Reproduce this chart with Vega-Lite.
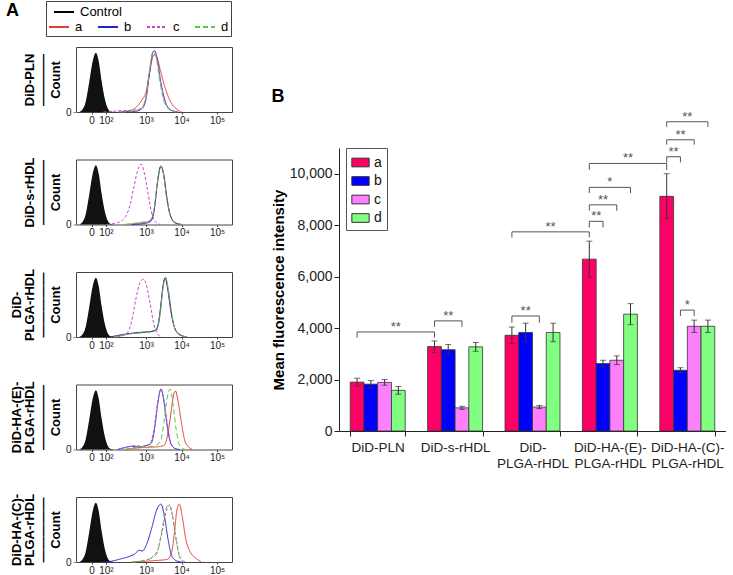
{
"$schema": "https://vega.github.io/schema/vega-lite/v6.json",
"padding": {"left": 5, "top": 0, "right": 0, "bottom": 0},
"background": "white",
"title": {"text": "A", "anchor": "start", "frame": "bounds", "fontSize": 18, "fontWeight": "bold", "color": "black", "offset": -20, "dx": -4},
"config": {"font": "Liberation Sans", "view": {"stroke": "#444"}},
"resolve": {"scale": {"fill": "independent", "stroke": "independent", "strokeDash": "independent"}, "legend": {"fill": "independent", "stroke": "independent", "strokeDash": "independent"}},
"datasets": {
"hist": [
{"p":"all","s":"Control","u":1.12,"n":0},{"p":"all","s":"Control","u":1.2,"n":0.03},{"p":"all","s":"Control","u":1.3,"n":0.15},{"p":"all","s":"Control","u":1.4,"n":0.45},{"p":"all","s":"Control","u":1.5,"n":0.78},{"p":"all","s":"Control","u":1.59,"n":0.91},{"p":"all","s":"Control","u":1.67,"n":0.78},{"p":"all","s":"Control","u":1.75,"n":0.48},{"p":"all","s":"Control","u":1.85,"n":0.18},{"p":"all","s":"Control","u":1.93,"n":0.05},{"p":"all","s":"Control","u":2.0,"n":0.01},{"p":"all","s":"Control","u":2.1,"n":0},

{"p":"DiD-PLN","s":"a","u":2.2,"n":0},{"p":"DiD-PLN","s":"a","u":2.6,"n":0.03},{"p":"DiD-PLN","s":"a","u":2.8,"n":0.12},{"p":"DiD-PLN","s":"a","u":2.9,"n":0.2},{"p":"DiD-PLN","s":"a","u":3.0,"n":0.3},{"p":"DiD-PLN","s":"a","u":3.1,"n":0.6},{"p":"DiD-PLN","s":"a","u":3.22,"n":0.88},{"p":"DiD-PLN","s":"a","u":3.3,"n":0.85},{"p":"DiD-PLN","s":"a","u":3.4,"n":0.65},{"p":"DiD-PLN","s":"a","u":3.55,"n":0.35},{"p":"DiD-PLN","s":"a","u":3.7,"n":0.15},{"p":"DiD-PLN","s":"a","u":3.85,"n":0.05},{"p":"DiD-PLN","s":"a","u":4.0,"n":0},
{"p":"DiD-PLN","s":"b","u":2.3,"n":0},{"p":"DiD-PLN","s":"b","u":2.7,"n":0.01},{"p":"DiD-PLN","s":"b","u":2.9,"n":0.06},{"p":"DiD-PLN","s":"b","u":3.0,"n":0.2},{"p":"DiD-PLN","s":"b","u":3.1,"n":0.6},{"p":"DiD-PLN","s":"b","u":3.2,"n":0.93},{"p":"DiD-PLN","s":"b","u":3.25,"n":0.94},{"p":"DiD-PLN","s":"b","u":3.32,"n":0.8},{"p":"DiD-PLN","s":"b","u":3.42,"n":0.45},{"p":"DiD-PLN","s":"b","u":3.55,"n":0.15},{"p":"DiD-PLN","s":"b","u":3.7,"n":0.03},{"p":"DiD-PLN","s":"b","u":3.9,"n":0},
{"p":"DiD-PLN","s":"c","u":1.8,"n":0},{"p":"DiD-PLN","s":"c","u":2.3,"n":0.02},{"p":"DiD-PLN","s":"c","u":2.7,"n":0.03},{"p":"DiD-PLN","s":"c","u":2.9,"n":0.07},{"p":"DiD-PLN","s":"c","u":3.0,"n":0.22},{"p":"DiD-PLN","s":"c","u":3.1,"n":0.62},{"p":"DiD-PLN","s":"c","u":3.21,"n":0.93},{"p":"DiD-PLN","s":"c","u":3.3,"n":0.83},{"p":"DiD-PLN","s":"c","u":3.4,"n":0.5},{"p":"DiD-PLN","s":"c","u":3.52,"n":0.17},{"p":"DiD-PLN","s":"c","u":3.68,"n":0.04},{"p":"DiD-PLN","s":"c","u":3.9,"n":0},
{"p":"DiD-PLN","s":"d","u":2.3,"n":0},{"p":"DiD-PLN","s":"d","u":2.7,"n":0.02},{"p":"DiD-PLN","s":"d","u":2.9,"n":0.08},{"p":"DiD-PLN","s":"d","u":3.0,"n":0.25},{"p":"DiD-PLN","s":"d","u":3.1,"n":0.65},{"p":"DiD-PLN","s":"d","u":3.2,"n":0.92},{"p":"DiD-PLN","s":"d","u":3.28,"n":0.85},{"p":"DiD-PLN","s":"d","u":3.38,"n":0.5},{"p":"DiD-PLN","s":"d","u":3.5,"n":0.18},{"p":"DiD-PLN","s":"d","u":3.65,"n":0.04},{"p":"DiD-PLN","s":"d","u":3.85,"n":0},

{"p":"DiD-s-rHDL","s":"a","u":2.4,"n":0},{"p":"DiD-s-rHDL","s":"a","u":2.8,"n":0.02},{"p":"DiD-s-rHDL","s":"a","u":3.1,"n":0.05},{"p":"DiD-s-rHDL","s":"a","u":3.22,"n":0.2},{"p":"DiD-s-rHDL","s":"a","u":3.32,"n":0.62},{"p":"DiD-s-rHDL","s":"a","u":3.42,"n":0.9},{"p":"DiD-s-rHDL","s":"a","u":3.5,"n":0.77},{"p":"DiD-s-rHDL","s":"a","u":3.58,"n":0.45},{"p":"DiD-s-rHDL","s":"a","u":3.68,"n":0.15},{"p":"DiD-s-rHDL","s":"a","u":3.82,"n":0.03},{"p":"DiD-s-rHDL","s":"a","u":4.0,"n":0},
{"p":"DiD-s-rHDL","s":"b","u":2.6,"n":0},{"p":"DiD-s-rHDL","s":"b","u":3.0,"n":0.02},{"p":"DiD-s-rHDL","s":"b","u":3.15,"n":0.06},{"p":"DiD-s-rHDL","s":"b","u":3.25,"n":0.3},{"p":"DiD-s-rHDL","s":"b","u":3.32,"n":0.65},{"p":"DiD-s-rHDL","s":"b","u":3.42,"n":0.9},{"p":"DiD-s-rHDL","s":"b","u":3.5,"n":0.75},{"p":"DiD-s-rHDL","s":"b","u":3.58,"n":0.42},{"p":"DiD-s-rHDL","s":"b","u":3.68,"n":0.15},{"p":"DiD-s-rHDL","s":"b","u":3.8,"n":0.03},{"p":"DiD-s-rHDL","s":"b","u":4.0,"n":0},
{"p":"DiD-s-rHDL","s":"c","u":1.9,"n":0},{"p":"DiD-s-rHDL","s":"c","u":2.2,"n":0.03},{"p":"DiD-s-rHDL","s":"c","u":2.4,"n":0.1},{"p":"DiD-s-rHDL","s":"c","u":2.55,"n":0.3},{"p":"DiD-s-rHDL","s":"c","u":2.65,"n":0.55},{"p":"DiD-s-rHDL","s":"c","u":2.75,"n":0.8},{"p":"DiD-s-rHDL","s":"c","u":2.86,"n":0.93},{"p":"DiD-s-rHDL","s":"c","u":2.95,"n":0.8},{"p":"DiD-s-rHDL","s":"c","u":3.05,"n":0.5},{"p":"DiD-s-rHDL","s":"c","u":3.15,"n":0.2},{"p":"DiD-s-rHDL","s":"c","u":3.25,"n":0.05},{"p":"DiD-s-rHDL","s":"c","u":3.4,"n":0},
{"p":"DiD-s-rHDL","s":"d","u":2.4,"n":0},{"p":"DiD-s-rHDL","s":"d","u":2.8,"n":0.03},{"p":"DiD-s-rHDL","s":"d","u":3.1,"n":0.06},{"p":"DiD-s-rHDL","s":"d","u":3.22,"n":0.22},{"p":"DiD-s-rHDL","s":"d","u":3.32,"n":0.64},{"p":"DiD-s-rHDL","s":"d","u":3.42,"n":0.9},{"p":"DiD-s-rHDL","s":"d","u":3.5,"n":0.76},{"p":"DiD-s-rHDL","s":"d","u":3.58,"n":0.43},{"p":"DiD-s-rHDL","s":"d","u":3.68,"n":0.14},{"p":"DiD-s-rHDL","s":"d","u":3.82,"n":0.03},{"p":"DiD-s-rHDL","s":"d","u":4.0,"n":0},

{"p":"DiD-PLGA-rHDL","s":"a","u":2.0,"n":0},{"p":"DiD-PLGA-rHDL","s":"a","u":2.5,"n":0.05},{"p":"DiD-PLGA-rHDL","s":"a","u":2.9,"n":0.07},{"p":"DiD-PLGA-rHDL","s":"a","u":3.2,"n":0.09},{"p":"DiD-PLGA-rHDL","s":"a","u":3.32,"n":0.15},{"p":"DiD-PLGA-rHDL","s":"a","u":3.42,"n":0.5},{"p":"DiD-PLGA-rHDL","s":"a","u":3.5,"n":0.85},{"p":"DiD-PLGA-rHDL","s":"a","u":3.55,"n":0.91},{"p":"DiD-PLGA-rHDL","s":"a","u":3.63,"n":0.7},{"p":"DiD-PLGA-rHDL","s":"a","u":3.72,"n":0.35},{"p":"DiD-PLGA-rHDL","s":"a","u":3.82,"n":0.12},{"p":"DiD-PLGA-rHDL","s":"a","u":3.95,"n":0.03},{"p":"DiD-PLGA-rHDL","s":"a","u":4.15,"n":0},
{"p":"DiD-PLGA-rHDL","s":"b","u":2.0,"n":0},{"p":"DiD-PLGA-rHDL","s":"b","u":2.4,"n":0.04},{"p":"DiD-PLGA-rHDL","s":"b","u":2.8,"n":0.07},{"p":"DiD-PLGA-rHDL","s":"b","u":3.1,"n":0.08},{"p":"DiD-PLGA-rHDL","s":"b","u":3.3,"n":0.12},{"p":"DiD-PLGA-rHDL","s":"b","u":3.4,"n":0.4},{"p":"DiD-PLGA-rHDL","s":"b","u":3.47,"n":0.75},{"p":"DiD-PLGA-rHDL","s":"b","u":3.54,"n":0.91},{"p":"DiD-PLGA-rHDL","s":"b","u":3.62,"n":0.7},{"p":"DiD-PLGA-rHDL","s":"b","u":3.7,"n":0.4},{"p":"DiD-PLGA-rHDL","s":"b","u":3.8,"n":0.15},{"p":"DiD-PLGA-rHDL","s":"b","u":3.95,"n":0.04},{"p":"DiD-PLGA-rHDL","s":"b","u":4.15,"n":0},
{"p":"DiD-PLGA-rHDL","s":"c","u":2.2,"n":0},{"p":"DiD-PLGA-rHDL","s":"c","u":2.45,"n":0.05},{"p":"DiD-PLGA-rHDL","s":"c","u":2.6,"n":0.25},{"p":"DiD-PLGA-rHDL","s":"c","u":2.72,"n":0.6},{"p":"DiD-PLGA-rHDL","s":"c","u":2.84,"n":0.85},{"p":"DiD-PLGA-rHDL","s":"c","u":2.93,"n":0.89},{"p":"DiD-PLGA-rHDL","s":"c","u":3.02,"n":0.78},{"p":"DiD-PLGA-rHDL","s":"c","u":3.12,"n":0.5},{"p":"DiD-PLGA-rHDL","s":"c","u":3.22,"n":0.2},{"p":"DiD-PLGA-rHDL","s":"c","u":3.32,"n":0.05},{"p":"DiD-PLGA-rHDL","s":"c","u":3.45,"n":0},
{"p":"DiD-PLGA-rHDL","s":"d","u":2.1,"n":0},{"p":"DiD-PLGA-rHDL","s":"d","u":2.6,"n":0.05},{"p":"DiD-PLGA-rHDL","s":"d","u":3.0,"n":0.07},{"p":"DiD-PLGA-rHDL","s":"d","u":3.3,"n":0.1},{"p":"DiD-PLGA-rHDL","s":"d","u":3.4,"n":0.35},{"p":"DiD-PLGA-rHDL","s":"d","u":3.48,"n":0.75},{"p":"DiD-PLGA-rHDL","s":"d","u":3.55,"n":0.92},{"p":"DiD-PLGA-rHDL","s":"d","u":3.63,"n":0.72},{"p":"DiD-PLGA-rHDL","s":"d","u":3.72,"n":0.38},{"p":"DiD-PLGA-rHDL","s":"d","u":3.82,"n":0.12},{"p":"DiD-PLGA-rHDL","s":"d","u":4.0,"n":0.02},{"p":"DiD-PLGA-rHDL","s":"d","u":4.15,"n":0},

{"p":"DiD-HA-(E)-PLGA-rHDL","s":"a","u":2.4,"n":0},{"p":"DiD-HA-(E)-PLGA-rHDL","s":"a","u":2.9,"n":0.03},{"p":"DiD-HA-(E)-PLGA-rHDL","s":"a","u":3.3,"n":0.04},{"p":"DiD-HA-(E)-PLGA-rHDL","s":"a","u":3.5,"n":0.06},{"p":"DiD-HA-(E)-PLGA-rHDL","s":"a","u":3.6,"n":0.2},{"p":"DiD-HA-(E)-PLGA-rHDL","s":"a","u":3.7,"n":0.55},{"p":"DiD-HA-(E)-PLGA-rHDL","s":"a","u":3.78,"n":0.85},{"p":"DiD-HA-(E)-PLGA-rHDL","s":"a","u":3.83,"n":0.9},{"p":"DiD-HA-(E)-PLGA-rHDL","s":"a","u":3.9,"n":0.75},{"p":"DiD-HA-(E)-PLGA-rHDL","s":"a","u":4.0,"n":0.4},{"p":"DiD-HA-(E)-PLGA-rHDL","s":"a","u":4.1,"n":0.12},{"p":"DiD-HA-(E)-PLGA-rHDL","s":"a","u":4.2,"n":0.04},{"p":"DiD-HA-(E)-PLGA-rHDL","s":"a","u":4.3,"n":0},
{"p":"DiD-HA-(E)-PLGA-rHDL","s":"b","u":2.2,"n":0},{"p":"DiD-HA-(E)-PLGA-rHDL","s":"b","u":2.4,"n":0.03},{"p":"DiD-HA-(E)-PLGA-rHDL","s":"b","u":2.6,"n":0.05},{"p":"DiD-HA-(E)-PLGA-rHDL","s":"b","u":2.8,"n":0.04},{"p":"DiD-HA-(E)-PLGA-rHDL","s":"b","u":3.0,"n":0.06},{"p":"DiD-HA-(E)-PLGA-rHDL","s":"b","u":3.15,"n":0.1},{"p":"DiD-HA-(E)-PLGA-rHDL","s":"b","u":3.25,"n":0.35},{"p":"DiD-HA-(E)-PLGA-rHDL","s":"b","u":3.33,"n":0.7},{"p":"DiD-HA-(E)-PLGA-rHDL","s":"b","u":3.42,"n":0.93},{"p":"DiD-HA-(E)-PLGA-rHDL","s":"b","u":3.5,"n":0.75},{"p":"DiD-HA-(E)-PLGA-rHDL","s":"b","u":3.58,"n":0.42},{"p":"DiD-HA-(E)-PLGA-rHDL","s":"b","u":3.68,"n":0.12},{"p":"DiD-HA-(E)-PLGA-rHDL","s":"b","u":3.8,"n":0.02},{"p":"DiD-HA-(E)-PLGA-rHDL","s":"b","u":3.95,"n":0},
{"p":"DiD-HA-(E)-PLGA-rHDL","s":"c","u":2.2,"n":0},{"p":"DiD-HA-(E)-PLGA-rHDL","s":"c","u":2.5,"n":0.04},{"p":"DiD-HA-(E)-PLGA-rHDL","s":"c","u":2.7,"n":0.06},{"p":"DiD-HA-(E)-PLGA-rHDL","s":"c","u":2.9,"n":0.05},{"p":"DiD-HA-(E)-PLGA-rHDL","s":"c","u":3.1,"n":0.08},{"p":"DiD-HA-(E)-PLGA-rHDL","s":"c","u":3.22,"n":0.3},{"p":"DiD-HA-(E)-PLGA-rHDL","s":"c","u":3.32,"n":0.7},{"p":"DiD-HA-(E)-PLGA-rHDL","s":"c","u":3.42,"n":0.93},{"p":"DiD-HA-(E)-PLGA-rHDL","s":"c","u":3.5,"n":0.78},{"p":"DiD-HA-(E)-PLGA-rHDL","s":"c","u":3.6,"n":0.4},{"p":"DiD-HA-(E)-PLGA-rHDL","s":"c","u":3.7,"n":0.1},{"p":"DiD-HA-(E)-PLGA-rHDL","s":"c","u":3.85,"n":0},
{"p":"DiD-HA-(E)-PLGA-rHDL","s":"d","u":2.4,"n":0},{"p":"DiD-HA-(E)-PLGA-rHDL","s":"d","u":2.8,"n":0.04},{"p":"DiD-HA-(E)-PLGA-rHDL","s":"d","u":3.2,"n":0.05},{"p":"DiD-HA-(E)-PLGA-rHDL","s":"d","u":3.4,"n":0.12},{"p":"DiD-HA-(E)-PLGA-rHDL","s":"d","u":3.5,"n":0.4},{"p":"DiD-HA-(E)-PLGA-rHDL","s":"d","u":3.6,"n":0.8},{"p":"DiD-HA-(E)-PLGA-rHDL","s":"d","u":3.68,"n":0.93},{"p":"DiD-HA-(E)-PLGA-rHDL","s":"d","u":3.76,"n":0.7},{"p":"DiD-HA-(E)-PLGA-rHDL","s":"d","u":3.85,"n":0.3},{"p":"DiD-HA-(E)-PLGA-rHDL","s":"d","u":3.95,"n":0.06},{"p":"DiD-HA-(E)-PLGA-rHDL","s":"d","u":4.1,"n":0},

{"p":"DiD-HA-(C)-PLGA-rHDL","s":"a","u":2.6,"n":0},{"p":"DiD-HA-(C)-PLGA-rHDL","s":"a","u":3.2,"n":0.02},{"p":"DiD-HA-(C)-PLGA-rHDL","s":"a","u":3.6,"n":0.04},{"p":"DiD-HA-(C)-PLGA-rHDL","s":"a","u":3.72,"n":0.15},{"p":"DiD-HA-(C)-PLGA-rHDL","s":"a","u":3.8,"n":0.45},{"p":"DiD-HA-(C)-PLGA-rHDL","s":"a","u":3.87,"n":0.8},{"p":"DiD-HA-(C)-PLGA-rHDL","s":"a","u":3.94,"n":0.89},{"p":"DiD-HA-(C)-PLGA-rHDL","s":"a","u":4.02,"n":0.7},{"p":"DiD-HA-(C)-PLGA-rHDL","s":"a","u":4.12,"n":0.35},{"p":"DiD-HA-(C)-PLGA-rHDL","s":"a","u":4.25,"n":0.15},{"p":"DiD-HA-(C)-PLGA-rHDL","s":"a","u":4.4,"n":0.06},{"p":"DiD-HA-(C)-PLGA-rHDL","s":"a","u":4.55,"n":0},
{"p":"DiD-HA-(C)-PLGA-rHDL","s":"b","u":1.9,"n":0},{"p":"DiD-HA-(C)-PLGA-rHDL","s":"b","u":2.1,"n":0.02},{"p":"DiD-HA-(C)-PLGA-rHDL","s":"b","u":2.3,"n":0.05},{"p":"DiD-HA-(C)-PLGA-rHDL","s":"b","u":2.5,"n":0.08},{"p":"DiD-HA-(C)-PLGA-rHDL","s":"b","u":2.7,"n":0.13},{"p":"DiD-HA-(C)-PLGA-rHDL","s":"b","u":2.8,"n":0.18},{"p":"DiD-HA-(C)-PLGA-rHDL","s":"b","u":2.9,"n":0.17},{"p":"DiD-HA-(C)-PLGA-rHDL","s":"b","u":3.0,"n":0.25},{"p":"DiD-HA-(C)-PLGA-rHDL","s":"b","u":3.15,"n":0.5},{"p":"DiD-HA-(C)-PLGA-rHDL","s":"b","u":3.3,"n":0.8},{"p":"DiD-HA-(C)-PLGA-rHDL","s":"b","u":3.42,"n":0.89},{"p":"DiD-HA-(C)-PLGA-rHDL","s":"b","u":3.52,"n":0.7},{"p":"DiD-HA-(C)-PLGA-rHDL","s":"b","u":3.62,"n":0.35},{"p":"DiD-HA-(C)-PLGA-rHDL","s":"b","u":3.72,"n":0.1},{"p":"DiD-HA-(C)-PLGA-rHDL","s":"b","u":3.85,"n":0.02},{"p":"DiD-HA-(C)-PLGA-rHDL","s":"b","u":4.0,"n":0},
{"p":"DiD-HA-(C)-PLGA-rHDL","s":"c","u":2.6,"n":0},{"p":"DiD-HA-(C)-PLGA-rHDL","s":"c","u":3.0,"n":0.03},{"p":"DiD-HA-(C)-PLGA-rHDL","s":"c","u":3.3,"n":0.15},{"p":"DiD-HA-(C)-PLGA-rHDL","s":"c","u":3.45,"n":0.45},{"p":"DiD-HA-(C)-PLGA-rHDL","s":"c","u":3.58,"n":0.8},{"p":"DiD-HA-(C)-PLGA-rHDL","s":"c","u":3.66,"n":0.88},{"p":"DiD-HA-(C)-PLGA-rHDL","s":"c","u":3.75,"n":0.7},{"p":"DiD-HA-(C)-PLGA-rHDL","s":"c","u":3.85,"n":0.35},{"p":"DiD-HA-(C)-PLGA-rHDL","s":"c","u":3.95,"n":0.08},{"p":"DiD-HA-(C)-PLGA-rHDL","s":"c","u":4.1,"n":0},
{"p":"DiD-HA-(C)-PLGA-rHDL","s":"d","u":2.6,"n":0},{"p":"DiD-HA-(C)-PLGA-rHDL","s":"d","u":3.0,"n":0.03},{"p":"DiD-HA-(C)-PLGA-rHDL","s":"d","u":3.3,"n":0.12},{"p":"DiD-HA-(C)-PLGA-rHDL","s":"d","u":3.45,"n":0.5},{"p":"DiD-HA-(C)-PLGA-rHDL","s":"d","u":3.56,"n":0.82},{"p":"DiD-HA-(C)-PLGA-rHDL","s":"d","u":3.65,"n":0.88},{"p":"DiD-HA-(C)-PLGA-rHDL","s":"d","u":3.73,"n":0.75},{"p":"DiD-HA-(C)-PLGA-rHDL","s":"d","u":3.83,"n":0.4},{"p":"DiD-HA-(C)-PLGA-rHDL","s":"d","u":3.93,"n":0.1},{"p":"DiD-HA-(C)-PLGA-rHDL","s":"d","u":4.05,"n":0}
],
"bars": [
{"g":"DiD-PLN","s":"a","v":1900,"lo":1750,"hi":2050},{"g":"DiD-PLN","s":"b","v":1820,"lo":1680,"hi":1960},{"g":"DiD-PLN","s":"c","v":1890,"lo":1780,"hi":2000},{"g":"DiD-PLN","s":"d","v":1580,"lo":1430,"hi":1730},
{"g":"DiD-s-rHDL","s":"a","v":3280,"lo":3060,"hi":3500},{"g":"DiD-s-rHDL","s":"b","v":3160,"lo":2960,"hi":3360},{"g":"DiD-s-rHDL","s":"c","v":900,"lo":840,"hi":960},{"g":"DiD-s-rHDL","s":"d","v":3270,"lo":3100,"hi":3440},
{"g":"DiD-PLGA-rHDL","s":"a","v":3720,"lo":3400,"hi":4040},{"g":"DiD-PLGA-rHDL","s":"b","v":3830,"lo":3470,"hi":4190},{"g":"DiD-PLGA-rHDL","s":"c","v":930,"lo":870,"hi":990},{"g":"DiD-PLGA-rHDL","s":"d","v":3830,"lo":3470,"hi":4190},
{"g":"DiD-HA-(E)-PLGA-rHDL","s":"a","v":6680,"lo":5980,"hi":7380},{"g":"DiD-HA-(E)-PLGA-rHDL","s":"b","v":2620,"lo":2490,"hi":2750},{"g":"DiD-HA-(E)-PLGA-rHDL","s":"c","v":2750,"lo":2580,"hi":2920},{"g":"DiD-HA-(E)-PLGA-rHDL","s":"d","v":4540,"lo":4130,"hi":4950},
{"g":"DiD-HA-(C)-PLGA-rHDL","s":"a","v":9120,"lo":8250,"hi":10000},{"g":"DiD-HA-(C)-PLGA-rHDL","s":"b","v":2360,"lo":2260,"hi":2460},{"g":"DiD-HA-(C)-PLGA-rHDL","s":"c","v":4070,"lo":3830,"hi":4310},{"g":"DiD-HA-(C)-PLGA-rHDL","s":"d","v":4070,"lo":3830,"hi":4310}
],
"brk": [
{"id":1,"o":1,"g":"DiD-PLN","s":"a","v":3630},{"id":1,"o":2,"g":"DiD-PLN","s":"a","v":3850},{"id":1,"o":3,"g":"DiD-s-rHDL","s":"a","v":3850},{"id":1,"o":4,"g":"DiD-s-rHDL","s":"a","v":3630},
{"id":2,"o":1,"g":"DiD-s-rHDL","s":"a","v":4050},{"id":2,"o":2,"g":"DiD-s-rHDL","s":"a","v":4280},{"id":2,"o":3,"g":"DiD-s-rHDL","s":"c","v":4280},{"id":2,"o":4,"g":"DiD-s-rHDL","s":"c","v":4050},
{"id":3,"o":1,"g":"DiD-PLGA-rHDL","s":"a","v":4210},{"id":3,"o":2,"g":"DiD-PLGA-rHDL","s":"a","v":4470},{"id":3,"o":3,"g":"DiD-PLGA-rHDL","s":"c","v":4470},{"id":3,"o":4,"g":"DiD-PLGA-rHDL","s":"c","v":4210},
{"id":4,"o":1,"g":"DiD-PLGA-rHDL","s":"a","v":7520},{"id":4,"o":2,"g":"DiD-PLGA-rHDL","s":"a","v":7740},{"id":4,"o":3,"g":"DiD-HA-(E)-PLGA-rHDL","s":"a","v":7740},{"id":4,"o":4,"g":"DiD-HA-(E)-PLGA-rHDL","s":"a","v":7520},
{"id":5,"o":1,"g":"DiD-HA-(E)-PLGA-rHDL","s":"a","v":7910},{"id":5,"o":2,"g":"DiD-HA-(E)-PLGA-rHDL","s":"a","v":8150},{"id":5,"o":3,"g":"DiD-HA-(E)-PLGA-rHDL","s":"b","v":8150},{"id":5,"o":4,"g":"DiD-HA-(E)-PLGA-rHDL","s":"b","v":7910},
{"id":6,"o":1,"g":"DiD-HA-(E)-PLGA-rHDL","s":"a","v":8560},{"id":6,"o":2,"g":"DiD-HA-(E)-PLGA-rHDL","s":"a","v":8790},{"id":6,"o":3,"g":"DiD-HA-(E)-PLGA-rHDL","s":"c","v":8790},{"id":6,"o":4,"g":"DiD-HA-(E)-PLGA-rHDL","s":"c","v":8560},
{"id":7,"o":1,"g":"DiD-HA-(E)-PLGA-rHDL","s":"a","v":9250},{"id":7,"o":2,"g":"DiD-HA-(E)-PLGA-rHDL","s":"a","v":9470},{"id":7,"o":3,"g":"DiD-HA-(E)-PLGA-rHDL","s":"d","v":9470},{"id":7,"o":4,"g":"DiD-HA-(E)-PLGA-rHDL","s":"d","v":9250},
{"id":8,"o":1,"g":"DiD-HA-(E)-PLGA-rHDL","s":"a","v":10150},{"id":8,"o":2,"g":"DiD-HA-(E)-PLGA-rHDL","s":"a","v":10400},{"id":8,"o":3,"g":"DiD-HA-(C)-PLGA-rHDL","s":"a","v":10400},{"id":8,"o":4,"g":"DiD-HA-(C)-PLGA-rHDL","s":"a","v":10150},
{"id":9,"o":1,"g":"DiD-HA-(C)-PLGA-rHDL","s":"a","v":10440},{"id":9,"o":2,"g":"DiD-HA-(C)-PLGA-rHDL","s":"a","v":10660},{"id":9,"o":3,"g":"DiD-HA-(C)-PLGA-rHDL","s":"b","v":10660},{"id":9,"o":4,"g":"DiD-HA-(C)-PLGA-rHDL","s":"b","v":10440},
{"id":10,"o":1,"g":"DiD-HA-(C)-PLGA-rHDL","s":"a","v":11130},{"id":10,"o":2,"g":"DiD-HA-(C)-PLGA-rHDL","s":"a","v":11320},{"id":10,"o":3,"g":"DiD-HA-(C)-PLGA-rHDL","s":"c","v":11320},{"id":10,"o":4,"g":"DiD-HA-(C)-PLGA-rHDL","s":"c","v":11130},
{"id":11,"o":1,"g":"DiD-HA-(C)-PLGA-rHDL","s":"a","v":11820},{"id":11,"o":2,"g":"DiD-HA-(C)-PLGA-rHDL","s":"a","v":12020},{"id":11,"o":3,"g":"DiD-HA-(C)-PLGA-rHDL","s":"d","v":12020},{"id":11,"o":4,"g":"DiD-HA-(C)-PLGA-rHDL","s":"d","v":11820},
{"id":12,"o":1,"g":"DiD-HA-(C)-PLGA-rHDL","s":"b","v":4470},{"id":12,"o":2,"g":"DiD-HA-(C)-PLGA-rHDL","s":"b","v":4700},{"id":12,"o":3,"g":"DiD-HA-(C)-PLGA-rHDL","s":"c","v":4700},{"id":12,"o":4,"g":"DiD-HA-(C)-PLGA-rHDL","s":"c","v":4470}
],
"sig": [
{"g1":"DiD-PLN","s1":"a","g2":"DiD-s-rHDL","s2":"a","top":3850,"t":"**"},
{"g1":"DiD-s-rHDL","s1":"a","g2":"DiD-s-rHDL","s2":"c","top":4280,"t":"**"},
{"g1":"DiD-PLGA-rHDL","s1":"a","g2":"DiD-PLGA-rHDL","s2":"c","top":4470,"t":"**"},
{"g1":"DiD-PLGA-rHDL","s1":"a","g2":"DiD-HA-(E)-PLGA-rHDL","s2":"a","top":7740,"t":"**"},
{"g1":"DiD-HA-(E)-PLGA-rHDL","s1":"a","g2":"DiD-HA-(E)-PLGA-rHDL","s2":"b","top":8150,"t":"**"},
{"g1":"DiD-HA-(E)-PLGA-rHDL","s1":"a","g2":"DiD-HA-(E)-PLGA-rHDL","s2":"c","top":8790,"t":"**"},
{"g1":"DiD-HA-(E)-PLGA-rHDL","s1":"a","g2":"DiD-HA-(E)-PLGA-rHDL","s2":"d","top":9470,"t":"*"},
{"g1":"DiD-HA-(E)-PLGA-rHDL","s1":"a","g2":"DiD-HA-(C)-PLGA-rHDL","s2":"a","top":10400,"t":"**"},
{"g1":"DiD-HA-(C)-PLGA-rHDL","s1":"a","g2":"DiD-HA-(C)-PLGA-rHDL","s2":"b","top":10660,"t":"**"},
{"g1":"DiD-HA-(C)-PLGA-rHDL","s1":"a","g2":"DiD-HA-(C)-PLGA-rHDL","s2":"c","top":11320,"t":"**"},
{"g1":"DiD-HA-(C)-PLGA-rHDL","s1":"a","g2":"DiD-HA-(C)-PLGA-rHDL","s2":"d","top":12020,"t":"**"},
{"g1":"DiD-HA-(C)-PLGA-rHDL","s1":"b","g2":"DiD-HA-(C)-PLGA-rHDL","s2":"c","top":4700,"t":"*"}
],
"panelB": [{"t":"B"}]
},
"spacing": 38,
"hconcat": [
{
"vconcat": [
{"width": 156, "height": 65,
 "resolve": {"scale": {"x": "independent"}, "axis": {"x": "independent"}},
 "layer": [
  {"data": {"name": "hist"}, "transform": [{"filter": "datum.s == 'Control'"}],
   "mark": {"type": "area", "interpolate": "monotone"},
   "encoding": {
    "x": {"field": "u", "type": "quantitative", "scale": {"domain": [1.03, 5.42], "nice": false, "zero": false},
      "axis": {"orient": "bottom", "title": null, "values": [1.47,3,5], "labelExpr": "datum.value < 2 ? '0' : datum.value < 4 ? '10³' : '10⁵'", "labelFontSize": 10, "labelColor": "#222", "tickSize": 2, "tickColor": "#444", "domain": false, "grid": false, "labelPadding": 1, "labelFlush": false}},
    "y": {"field": "n", "type": "quantitative", "scale": {"domain": [0, 1], "nice": false},
      "axis": {"title": ["DiD-PLN", "————", "Count"], "values": [0], "format": "d", "labelFontSize": 10, "labelColor": "#222", "tickSize": 3, "domain": false, "grid": false, "titleFontSize": 13, "titleFontWeight": "bold", "titleColor": "black", "titleLineHeight": 13, "titlePadding": 3, "labelPadding": 2}},
    "fill": {"field": "s", "type": "nominal", "scale": {"domain": ["Control"], "range": ["#111111"]},
      "legend": {"orient": "none", "legendX": -23, "legendY": -46, "title": null, "symbolType": "stroke", "symbolSize": 400, "symbolStrokeColor": "black", "symbolStrokeWidth": 2, "labelFontSize": 13, "labelColor": "black", "labelOffset": 5, "padding": 0}}
   }},
  {"data": {"name": "hist"}, "transform": [{"filter": "datum.p == 'DiD-PLN'"}],
   "mark": {"type": "line", "interpolate": "monotone", "strokeWidth": 1},
   "encoding": {
    "x": {"field": "u", "type": "quantitative", "scale": {"domain": [1.03, 5.42], "nice": false, "zero": false},
      "axis": {"orient": "bottom", "title": null, "values": [1.87,4], "labelExpr": "datum.value < 3 ? '10²' : '10⁴'", "labelFontSize": 10, "labelColor": "#222", "tickSize": 2, "tickColor": "#444", "domain": false, "grid": false, "labelPadding": 1, "labelFlush": false}},
    "y": {"field": "n", "type": "quantitative"},
    "stroke": {"field": "s", "type": "nominal", "scale": {"domain": ["a","b","c","d"], "range": ["#E8392F","#2626CF","#CC44CC","#55CC44"]},
      "legend": {"orient": "none", "legendX": -30, "legendY": -46, "direction": "horizontal", "columns": 4, "title": " ", "titleFontSize": 8, "titlePadding": 5, "symbolType": "stroke", "symbolSize": 400, "symbolStrokeWidth": 2, "labelFontSize": 13, "labelColor": "black", "labelOffset": 5, "columnPadding": 11, "strokeColor": "#444", "padding": 2}},
    "strokeDash": {"field": "s", "type": "nominal", "scale": {"domain": ["a","b","c","d"], "range": [[1,0],[1,0],[3,2],[5,3]]},
      "legend": {"orient": "none", "legendX": -30, "legendY": -46, "direction": "horizontal", "columns": 4, "title": " ", "titleFontSize": 8, "titlePadding": 5, "symbolType": "stroke", "symbolSize": 400, "symbolStrokeWidth": 2, "labelFontSize": 13, "labelColor": "black", "labelOffset": 5, "columnPadding": 11, "strokeColor": "#444", "padding": 2}}
   }}
 ]},
{"width": 156, "height": 65,
 "resolve": {"scale": {"x": "independent"}, "axis": {"x": "independent"}},
 "layer": [
  {"data": {"name": "hist"}, "transform": [{"filter": "datum.s == 'Control'"}],
   "mark": {"type": "area", "interpolate": "monotone"},
   "encoding": {
    "x": {"field": "u", "type": "quantitative", "scale": {"domain": [1.03, 5.42], "nice": false, "zero": false},
      "axis": {"orient": "bottom", "title": null, "values": [1.47,3,5], "labelExpr": "datum.value < 2 ? '0' : datum.value < 4 ? '10³' : '10⁵'", "labelFontSize": 10, "labelColor": "#222", "tickSize": 2, "tickColor": "#444", "domain": false, "grid": false, "labelPadding": 1, "labelFlush": false}},
    "y": {"field": "n", "type": "quantitative", "scale": {"domain": [0, 1], "nice": false},
      "axis": {"title": ["DiD-s-rHDL", "—————", "Count"], "values": [0], "format": "d", "labelFontSize": 10, "labelColor": "#222", "tickSize": 3, "domain": false, "grid": false, "titleFontSize": 13, "titleFontWeight": "bold", "titleColor": "black", "titleLineHeight": 13, "titlePadding": 3, "labelPadding": 2}},
    "fill": {"field": "s", "type": "nominal", "scale": {"domain": ["Control"], "range": ["#111111"]}, "legend": null}
   }},
  {"data": {"name": "hist"}, "transform": [{"filter": "datum.p == 'DiD-s-rHDL'"}],
   "mark": {"type": "line", "interpolate": "monotone", "strokeWidth": 1},
   "encoding": {
    "x": {"field": "u", "type": "quantitative", "scale": {"domain": [1.03, 5.42], "nice": false, "zero": false},
      "axis": {"orient": "bottom", "title": null, "values": [1.87,4], "labelExpr": "datum.value < 3 ? '10²' : '10⁴'", "labelFontSize": 10, "labelColor": "#222", "tickSize": 2, "tickColor": "#444", "domain": false, "grid": false, "labelPadding": 1, "labelFlush": false}},
    "y": {"field": "n", "type": "quantitative"},
    "stroke": {"field": "s", "type": "nominal", "legend": null},
    "strokeDash": {"field": "s", "type": "nominal", "legend": null}
   }}
 ]},
{"width": 156, "height": 65,
 "resolve": {"scale": {"x": "independent"}, "axis": {"x": "independent"}},
 "layer": [
  {"data": {"name": "hist"}, "transform": [{"filter": "datum.s == 'Control'"}],
   "mark": {"type": "area", "interpolate": "monotone"},
   "encoding": {
    "x": {"field": "u", "type": "quantitative", "scale": {"domain": [1.03, 5.42], "nice": false, "zero": false},
      "axis": {"orient": "bottom", "title": null, "values": [1.47,3,5], "labelExpr": "datum.value < 2 ? '0' : datum.value < 4 ? '10³' : '10⁵'", "labelFontSize": 10, "labelColor": "#222", "tickSize": 2, "tickColor": "#444", "domain": false, "grid": false, "labelPadding": 1, "labelFlush": false}},
    "y": {"field": "n", "type": "quantitative", "scale": {"domain": [0, 1], "nice": false},
      "axis": {"title": ["DiD-", "PLGA-rHDL", "—————", "Count"], "values": [0], "format": "d", "labelFontSize": 10, "labelColor": "#222", "tickSize": 3, "domain": false, "grid": false, "titleFontSize": 13, "titleFontWeight": "bold", "titleColor": "black", "titleLineHeight": 13, "titlePadding": 3, "labelPadding": 2}},
    "fill": {"field": "s", "type": "nominal", "scale": {"domain": ["Control"], "range": ["#111111"]}, "legend": null}
   }},
  {"data": {"name": "hist"}, "transform": [{"filter": "datum.p == 'DiD-PLGA-rHDL'"}],
   "mark": {"type": "line", "interpolate": "monotone", "strokeWidth": 1},
   "encoding": {
    "x": {"field": "u", "type": "quantitative", "scale": {"domain": [1.03, 5.42], "nice": false, "zero": false},
      "axis": {"orient": "bottom", "title": null, "values": [1.87,4], "labelExpr": "datum.value < 3 ? '10²' : '10⁴'", "labelFontSize": 10, "labelColor": "#222", "tickSize": 2, "tickColor": "#444", "domain": false, "grid": false, "labelPadding": 1, "labelFlush": false}},
    "y": {"field": "n", "type": "quantitative"},
    "stroke": {"field": "s", "type": "nominal", "legend": null},
    "strokeDash": {"field": "s", "type": "nominal", "legend": null}
   }}
 ]},
{"width": 156, "height": 65,
 "resolve": {"scale": {"x": "independent"}, "axis": {"x": "independent"}},
 "layer": [
  {"data": {"name": "hist"}, "transform": [{"filter": "datum.s == 'Control'"}],
   "mark": {"type": "area", "interpolate": "monotone"},
   "encoding": {
    "x": {"field": "u", "type": "quantitative", "scale": {"domain": [1.03, 5.42], "nice": false, "zero": false},
      "axis": {"orient": "bottom", "title": null, "values": [1.47,3,5], "labelExpr": "datum.value < 2 ? '0' : datum.value < 4 ? '10³' : '10⁵'", "labelFontSize": 10, "labelColor": "#222", "tickSize": 2, "tickColor": "#444", "domain": false, "grid": false, "labelPadding": 1, "labelFlush": false}},
    "y": {"field": "n", "type": "quantitative", "scale": {"domain": [0, 1], "nice": false},
      "axis": {"title": ["DiD-HA-(E)-", "PLGA-rHDL", "—————", "Count"], "values": [0], "format": "d", "labelFontSize": 10, "labelColor": "#222", "tickSize": 3, "domain": false, "grid": false, "titleFontSize": 13, "titleFontWeight": "bold", "titleColor": "black", "titleLineHeight": 13, "titlePadding": 3, "labelPadding": 2}},
    "fill": {"field": "s", "type": "nominal", "scale": {"domain": ["Control"], "range": ["#111111"]}, "legend": null}
   }},
  {"data": {"name": "hist"}, "transform": [{"filter": "datum.p == 'DiD-HA-(E)-PLGA-rHDL'"}],
   "mark": {"type": "line", "interpolate": "monotone", "strokeWidth": 1},
   "encoding": {
    "x": {"field": "u", "type": "quantitative", "scale": {"domain": [1.03, 5.42], "nice": false, "zero": false},
      "axis": {"orient": "bottom", "title": null, "values": [1.87,4], "labelExpr": "datum.value < 3 ? '10²' : '10⁴'", "labelFontSize": 10, "labelColor": "#222", "tickSize": 2, "tickColor": "#444", "domain": false, "grid": false, "labelPadding": 1, "labelFlush": false}},
    "y": {"field": "n", "type": "quantitative"},
    "stroke": {"field": "s", "type": "nominal", "legend": null},
    "strokeDash": {"field": "s", "type": "nominal", "legend": null}
   }}
 ]},
{"width": 156, "height": 65,
 "resolve": {"scale": {"x": "independent"}, "axis": {"x": "independent"}},
 "layer": [
  {"data": {"name": "hist"}, "transform": [{"filter": "datum.s == 'Control'"}],
   "mark": {"type": "area", "interpolate": "monotone"},
   "encoding": {
    "x": {"field": "u", "type": "quantitative", "scale": {"domain": [1.03, 5.42], "nice": false, "zero": false},
      "axis": {"orient": "bottom", "title": null, "values": [1.47,3,5], "labelExpr": "datum.value < 2 ? '0' : datum.value < 4 ? '10³' : '10⁵'", "labelFontSize": 10, "labelColor": "#222", "tickSize": 2, "tickColor": "#444", "domain": false, "grid": false, "labelPadding": 1, "labelFlush": false}},
    "y": {"field": "n", "type": "quantitative", "scale": {"domain": [0, 1], "nice": false},
      "axis": {"title": ["DiD-HA-(C)-", "PLGA-rHDL", "—————", "Count"], "values": [0], "format": "d", "labelFontSize": 10, "labelColor": "#222", "tickSize": 3, "domain": false, "grid": false, "titleFontSize": 13, "titleFontWeight": "bold", "titleColor": "black", "titleLineHeight": 13, "titlePadding": 3, "labelPadding": 2}},
    "fill": {"field": "s", "type": "nominal", "scale": {"domain": ["Control"], "range": ["#111111"]}, "legend": null}
   }},
  {"data": {"name": "hist"}, "transform": [{"filter": "datum.p == 'DiD-HA-(C)-PLGA-rHDL'"}],
   "mark": {"type": "line", "interpolate": "monotone", "strokeWidth": 1},
   "encoding": {
    "x": {"field": "u", "type": "quantitative", "scale": {"domain": [1.03, 5.42], "nice": false, "zero": false},
      "axis": {"orient": "bottom", "title": null, "values": [1.87,4], "labelExpr": "datum.value < 3 ? '10²' : '10⁴'", "labelFontSize": 10, "labelColor": "#222", "tickSize": 2, "tickColor": "#444", "domain": false, "grid": false, "labelPadding": 1, "labelFlush": false}},
    "y": {"field": "n", "type": "quantitative"},
    "stroke": {"field": "s", "type": "nominal", "legend": null},
    "strokeDash": {"field": "s", "type": "nominal", "legend": null}
   }}
 ]}
],
"spacing": 47.5,
"bounds": "flush",
"resolve": {"legend": {"fill": "independent", "stroke": "independent", "strokeDash": "independent"}}
},
{
"width": 387, "height": 384,
"view": {"stroke": null},
"encoding": {
  "x": {"field": "g", "type": "nominal", "scale": {"domain": ["DiD-PLN","DiD-s-rHDL","DiD-PLGA-rHDL","DiD-HA-(E)-PLGA-rHDL","DiD-HA-(C)-PLGA-rHDL"], "paddingInner": 0.29, "paddingOuter": 0.145},
    "axis": {"title": null, "labelAngle": 0, "labelFontSize": 13.5, "labelColor": "#222", "tickBand": "extent", "tickSize": 5, "tickColor": "#222", "domainColor": "#222", "labelPadding": 4, "labelLineHeight": 16,
      "labelExpr": "indexof(datum.label,'PLGA')>0 ? [substring(datum.label,0,indexof(datum.label,'PLGA')), substring(datum.label,indexof(datum.label,'PLGA'))] : datum.label"}},
  "xOffset": {"field": "s", "type": "nominal", "scale": {"domain": ["a","b","c","d"], "paddingInner": 0, "paddingOuter": 0}}
},
"layer": [
 {"data": {"name": "bars"}, "mark": {"type": "bar", "stroke": "#333", "strokeWidth": 0.8},
  "encoding": {
   "y": {"field": "v", "type": "quantitative", "scale": {"domain": [0, 11000], "range": [384, 101], "nice": false},
     "axis": {"title": "Mean fluorescence intensity", "titleFontSize": 15, "titleFontWeight": "bold", "titleColor": "black", "values": [0,2000,4000,6000,8000,10000], "format": ",d", "labelFontSize": 14, "labelColor": "#222", "tickSize": 5, "tickColor": "#222", "domainColor": "#222", "grid": false, "titlePadding": 3}},
   "fill": {"field": "s", "type": "nominal", "scale": {"domain": ["a","b","c","d"], "range": ["#FF0066","#0000FF","#FF80FF","#80FF80"]},
     "legend": {"orient": "none", "legendX": 7, "legendY": 101, "title": null, "symbolType": "M-1,-0.5L1,-0.5L1,0.5L-1,0.5Z", "symbolSize": 300, "symbolStrokeColor": "#333", "symbolStrokeWidth": 1, "symbolOpacity": 1, "labelFontSize": 14, "labelColor": "#111", "strokeColor": "#555", "padding": 5, "rowPadding": 1.5, "labelOffset": 4}}
  }},
 {"data": {"name": "bars"}, "mark": {"type": "rule", "stroke": "#333", "strokeWidth": 1},
  "encoding": {"y": {"field": "lo", "type": "quantitative"}, "y2": {"field": "hi"}}},
 {"data": {"name": "bars"}, "mark": {"type": "tick", "color": "#333", "size": 6, "thickness": 1},
  "encoding": {"y": {"field": "lo", "type": "quantitative"}}},
 {"data": {"name": "bars"}, "mark": {"type": "tick", "color": "#333", "size": 6, "thickness": 1},
  "encoding": {"y": {"field": "hi", "type": "quantitative"}}},
 {"data": {"name": "brk"}, "mark": {"type": "line", "stroke": "#555", "strokeWidth": 1},
  "encoding": {"y": {"field": "v", "type": "quantitative"}, "detail": {"field": "id", "type": "nominal"}, "order": {"field": "o", "type": "quantitative"}}},
 {"data": {"name": "sig"}, "transform": [{"filter": "datum.g1 != datum.g2"}],
  "mark": {"type": "text", "fontSize": 13, "color": "#555", "baseline": "alphabetic", "dx": 38.7, "dy": -1},
  "encoding": {"x": {"field": "g1", "type": "nominal"}, "xOffset": {"field": "s1", "type": "nominal"}, "y": {"field": "top", "type": "quantitative"}, "text": {"field": "t"}}},
 {"data": {"name": "sig"}, "transform": [{"filter": "datum.g1 == datum.g2 && ((datum.s1 == 'a' && datum.s2 == 'b') || (datum.s1 == 'b' && datum.s2 == 'c'))"}],
  "mark": {"type": "text", "fontSize": 13, "color": "#555", "baseline": "alphabetic", "dx": 6.9, "dy": -1},
  "encoding": {"x": {"field": "g1", "type": "nominal"}, "xOffset": {"field": "s1", "type": "nominal"}, "y": {"field": "top", "type": "quantitative"}, "text": {"field": "t"}}},
 {"data": {"name": "sig"}, "transform": [{"filter": "datum.g1 == datum.g2 && datum.s1 == 'a' && datum.s2 == 'c'"}],
  "mark": {"type": "text", "fontSize": 13, "color": "#555", "baseline": "alphabetic", "dx": 13.75, "dy": -1},
  "encoding": {"x": {"field": "g1", "type": "nominal"}, "xOffset": {"field": "s1", "type": "nominal"}, "y": {"field": "top", "type": "quantitative"}, "text": {"field": "t"}}},
 {"data": {"name": "sig"}, "transform": [{"filter": "datum.g1 == datum.g2 && datum.s1 == 'a' && datum.s2 == 'd'"}],
  "mark": {"type": "text", "fontSize": 13, "color": "#555", "baseline": "alphabetic", "dx": 20.6, "dy": -1},
  "encoding": {"x": {"field": "g1", "type": "nominal"}, "xOffset": {"field": "s1", "type": "nominal"}, "y": {"field": "top", "type": "quantitative"}, "text": {"field": "t"}}},
 {"data": {"name": "panelB"}, "mark": {"type": "text", "fontSize": 18, "fontWeight": "bold", "color": "black", "baseline": "middle", "align": "center", "dx": -79},
  "encoding": {"x": {"datum": "DiD-PLN"}, "xOffset": {"datum": "a"}, "y": {"datum": 13000}, "text": {"field": "t"}}}
]
}
]
}
